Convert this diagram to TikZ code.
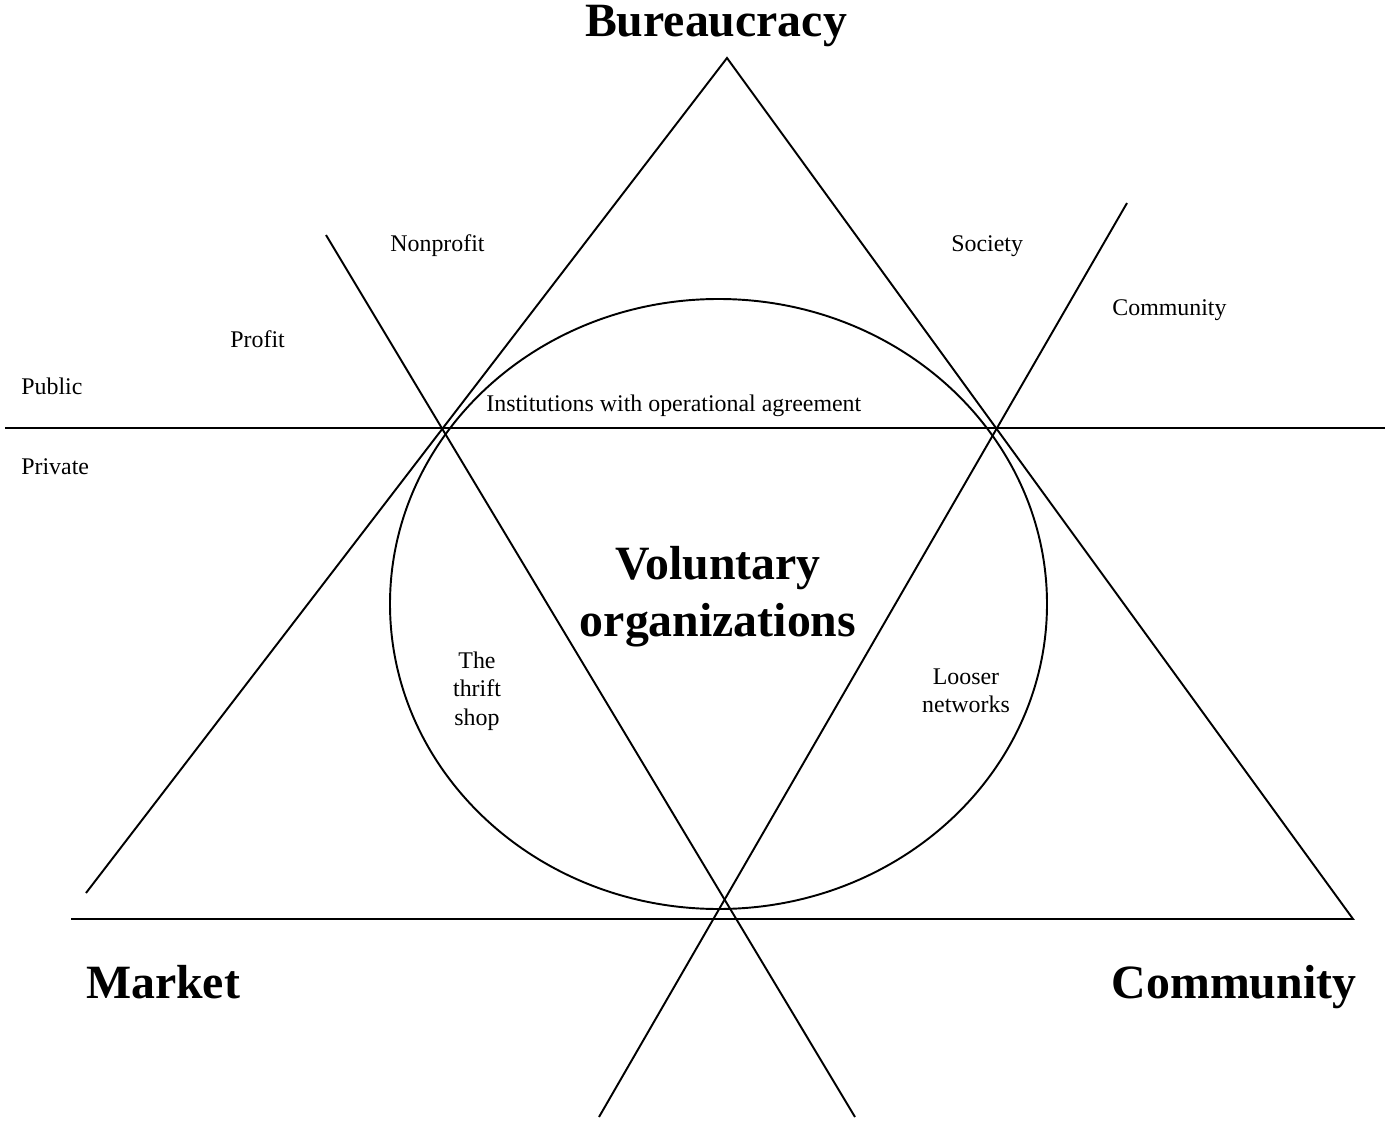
\documentclass[tikz,border=0pt]{standalone}
\usepackage{fontspec}
\setmainfont{Liberation Serif}
\usepackage{tikz}
\usetikzlibrary{positioning}
\tikzset{lbl/.style={font=\fontsize{13.6}{16.2}\selectfont, inner sep=0pt},
  big/.style={font=\fontsize{27.2}{32.4}\selectfont\bfseries, inner sep=0pt, align=center}}

\begin{document}
\begin{tikzpicture}[x=0.02cm,y=-0.02cm]

  \useasboundingbox (0,0) rectangle (1386,1128);

  % triangle
  \coordinate (apex) at (727,58);
  \coordinate (lend) at (86,893);
  \coordinate (rend) at (1353,919);
  \coordinate (bend) at (71,919);
  \draw [line width=1.1pt] (lend) -- (apex) -- (rend) -- (bend);

  % public / private
  \draw [line width=1.1pt] (5,428) -- (1385,428);

  % profit / nonprofit and society / community
  \draw [line width=1.1pt] (326,235) -- (855,1117);
  \draw [line width=1.1pt] (1127,203) -- (599,1117);

  % voluntary organizations
  \draw [line width=1.1pt] (718.5,604) ellipse [x radius=328.5, y radius=305];

  \node [big, anchor=base] (bur) at (716,37) {Bureaucracy};
  \node [big, anchor=base] (mar) at (163,998) {Market};
  \node [big, anchor=base] (com) at (1234,998) {Community};
  \node [big] (vol) at (718,597) {Voluntary\\organizations};

  \node [lbl, anchor=west] (nonp) at (390,246) {Nonprofit};
  \node [lbl, anchor=west] (soc) at (951,246) {Society};
  \node [lbl, anchor=west] (comm) at (1112,310) {Community};
  \node [lbl, anchor=west] (prof) at (230,339) {Profit};
  \node [lbl, anchor=west] (pub) at (21,386) {Public};
  \node [lbl, anchor=west] (priv) at (21,467) {Private};
  \node [lbl, anchor=west] (inst) at (486,406) {Institutions with operational agreement};
  \node [lbl, align=center] (thr) at (477,691) {The\\thrift\\shop};
  \node [lbl, align=center] (loo) at (966,691) {Looser\\networks};

\end{tikzpicture}
\end{document}
